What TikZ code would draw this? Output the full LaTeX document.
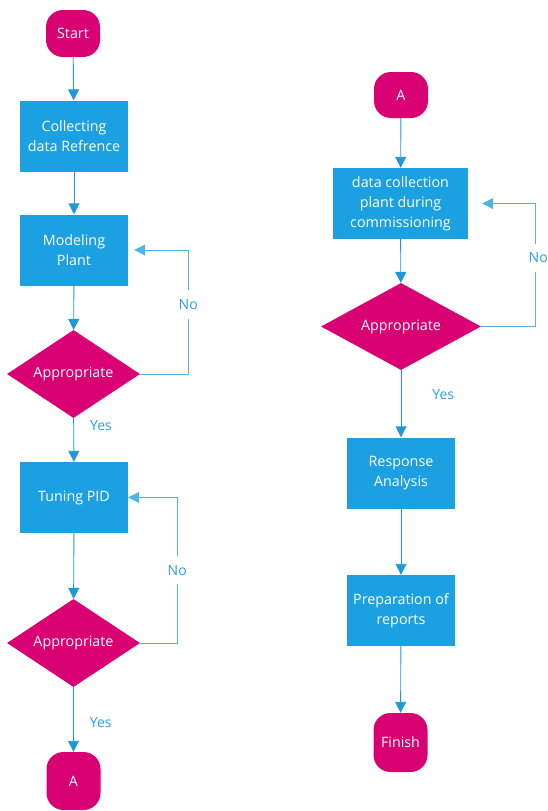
\documentclass[tikz,border=0pt]{standalone}
\usepackage{fontspec}
\setmainfont{Open Sans}
\usetikzlibrary{shapes.geometric,arrows.meta}
\definecolor{boxblue}{RGB}{27,161,226}
\definecolor{mag}{RGB}{216,0,115}
\definecolor{arr}{RGB}{30,152,216}
\definecolor{loopc}{RGB}{84,178,230}
\definecolor{lbl}{RGB}{40,160,225}
\begin{document}
\begin{tikzpicture}[x=1pt,y=-1pt,
  proc/.style={rectangle,fill=boxblue,text=white,minimum width=108pt,minimum height=71pt,
    align=center,inner sep=1pt,font=\fontsize{14.3}{20}\selectfont},
  term/.style={rectangle,rounded corners=17pt,fill=mag,text=white,minimum width=54pt,
    inner sep=1pt,font=\fontsize{14.3}{20}\selectfont},
  dec/.style={diamond,fill=mag,text=white,inner sep=0pt,aspect=1.5,
    font=\fontsize{14.3}{20}\selectfont},
  arrowline/.style={draw=arr,line width=0.9pt,-{Triangle[width=11pt,length=11pt]}},
  loopline/.style={draw=loopc,line width=0.9pt,-{Triangle[width=11pt,length=11pt]}},
  lab/.style={text=lbl,font=\fontsize{14}{16}\selectfont,inner sep=1pt},
  nolab/.style={lab,fill=white,inner ysep=9pt}
]
\useasboundingbox (0,0) rectangle (547,811);
% left column
\node[term,minimum height=47pt] (start) at (73,33.5) {Start};
\node[proc] (collect) at (74,136) {Collecting\\data Refrence};
\node[proc] (model) at (74,250) {Modeling\\Plant};
\node[dec,minimum width=133pt,minimum height=88pt] (d1) at (73.5,374) {Appropriate};
\node[proc] (tune) at (74,497.5) {Tuning PID};
\node[dec,minimum width=133pt,minimum height=88pt] (d2) at (73.5,643) {Appropriate};
\node[term,minimum height=58pt] (a1) at (73.5,781) {A};
% right column
\node[term,minimum height=46pt] (a2) at (401,95) {A};
\node[proc,minimum width=135pt] (dc) at (400.5,203.5) {data collection\\plant during\\commissioning};
\node[dec,minimum width=160pt,minimum height=87pt] (d3) at (401,326.5) {Appropriate};
\node[proc] (resp) at (401,473) {Response\\Analysis};
\node[proc] (prep) at (401,610.5) {Preparation of\\reports};
\node[term,minimum height=59pt] (fin) at (400.5,742.5) {Finish};
% connectors left
\draw[arrowline] (start) -- (collect);
\draw[arrowline] (collect) -- (model);
\draw[arrowline] (model) -- (d1);
\draw[arrowline] (d1) -- node[lab,pos=0.18,anchor=west,xshift=15pt]{Yes} (tune);
\draw[arrowline] (tune) -- (d2);
\draw[arrowline] (d2) -- node[lab,pos=0.54,anchor=west,xshift=15pt]{Yes} (a1);
\draw[loopline] (d1.east) -- ++(48,0) |- node[nolab,pos=0.28]{No} ([xshift=6pt]model.east);
\draw[loopline] (d2.east) -- ++(37,0) |- node[nolab,pos=0.25]{No} (tune.east);
% connectors right
\draw[arrowline] (a2) -- (dc);
\draw[arrowline] (dc) -- (d3);
\draw[arrowline] (d3) -- node[lab,pos=0.37,anchor=west,xshift=30pt]{Yes} (resp);
\draw[arrowline] (resp) -- (prep);
\draw[arrowline] (prep) -- (fin);
\draw[loopline] (d3.east) -- ++(54,0) |- node[nolab,pos=0.28,xshift=3pt]{No} ([xshift=14pt]dc.east);
\end{tikzpicture}
\end{document}
